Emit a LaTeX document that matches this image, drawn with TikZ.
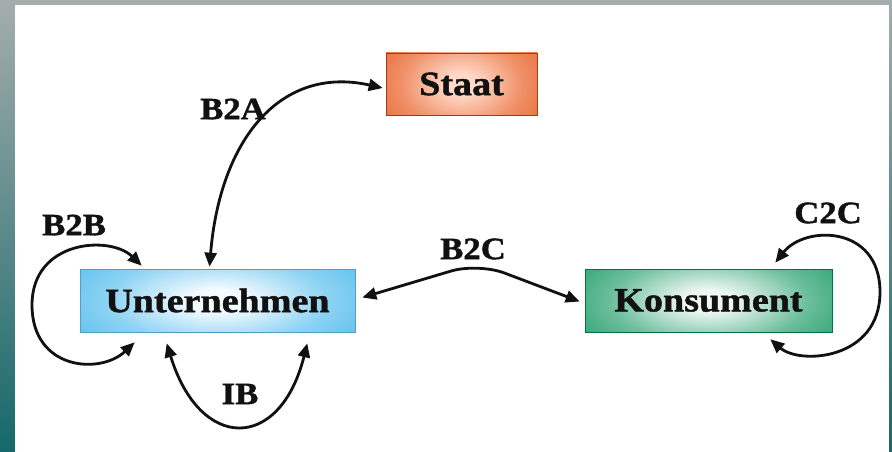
\documentclass[tikz,border=0pt]{standalone}
\usepackage{fontspec}
\setmainfont{Liberation Serif}
\newfontfamily\boxfont[FakeStretch=1.12,FakeBold=1.3]{Liberation Serif}
\usetikzlibrary{arrows.meta}

\definecolor{frametop}{HTML}{A4ADAC}
\definecolor{framebot}{HTML}{16686A}
\definecolor{staatout}{HTML}{E5561C}
\definecolor{staatin}{HTML}{FFD8C6}
\definecolor{unternout}{HTML}{38B2EA}
\definecolor{unternin}{HTML}{F4FBFF}
\definecolor{konsout}{HTML}{008F55}
\definecolor{konsin}{HTML}{EEF8F2}
\definecolor{ink}{HTML}{111111}

% soft radial glow: light core, saturated rim
\pgfdeclareradialshading{staatglow}{\pgfpoint{0bp}{0bp}}{color(0bp)=(staatin); color(5bp)=(staatin); color(20bp)=(staatout!55!staatin); color(40bp)=(staatout); color(50bp)=(staatout)}
\pgfdeclareradialshading{unternglow}{\pgfpoint{0bp}{0bp}}{color(0bp)=(unternin); color(5bp)=(unternin); color(20bp)=(unternout!55!unternin); color(40bp)=(unternout); color(50bp)=(unternout)}
\pgfdeclareradialshading{konsglow}{\pgfpoint{0bp}{0bp}}{color(0bp)=(konsin); color(5bp)=(konsin); color(20bp)=(konsout!55!konsin); color(40bp)=(konsout); color(50bp)=(konsout)}

\tikzset{
  entity/.style={inner sep=0pt, line width=0.6pt, font=\boxfont\bfseries\fontsize{34}{34}\selectfont, text=ink,
    path picture={\shade[shading=#1]
      ([yshift=22pt]path picture bounding box.north west) rectangle ([yshift=-22pt]path picture bounding box.south east);}},
  flow/.style={draw=ink, line width=2.8pt, {Triangle[length=14pt,width=12pt]}-{Triangle[length=14pt,width=12pt]}},
  flowlabel/.style={font=\boxfont\bfseries\fontsize{31}{31}\selectfont, text=ink, inner sep=0pt}
}

\begin{document}
\begin{tikzpicture}[x=1pt,y=-1pt]
  \useasboundingbox (0,0) rectangle (892,452);
  % frame and white page
  \fill[top color=frametop, bottom color=framebot] (0,0) rectangle (892,452);
  \fill[white] (15,5) rectangle (889,452);

  % entities
  \node[entity=staatglow, draw=staatout!70!black,
        minimum width=151pt, minimum height=62pt] (staat) at (461.5,84) {Staat};
  \node[entity=unternglow, draw=unternout!60!gray,
        minimum width=275pt, minimum height=63pt] (unt) at (217.5,300.5) {Unternehmen};
  \node[entity=konsglow, draw=konsout!80!black,
        minimum width=247pt, minimum height=63pt] (kon) at (708.5,300.5) {Konsument};

  % business to administration
  \draw[flow] ([xshift=-8pt,yshift=2pt]unt.north) .. controls (220,140) and (280,65) .. ([xshift=-3pt,yshift=-4pt]staat.west);
  % business to business loop
  \draw[flow] ([xshift=62pt,yshift=3pt]unt.north west) .. controls (110,235) and (32,240) .. (32,305)
              .. controls (32,370) and (100,375) .. ([xshift=55pt,yshift=-10pt]unt.south west);
  % business to consumer: two straight arms with a rounded peak
  \draw[flow, rounded corners=28pt] ([xshift=7pt,yshift=3pt]unt.east) -- (478,263) -- ([xshift=-5pt,yshift=-1pt]kon.west);
  % consumer to consumer loop
  \draw[flow] ([xshift=-57pt,yshift=6pt]kon.north east) .. controls (805,225) and (880,225) .. (880,292)
              .. controls (880,360) and (800,365) .. ([xshift=-62pt,yshift=-7pt]kon.south east);
  % intra-business
  \draw[flow] ([xshift=87pt,yshift=-11pt]unt.south west) .. controls (200,452) and (280,452) .. ([xshift=-48pt,yshift=-11pt]unt.south east);

  % labels
  \node[flowlabel] (lb2a) at (233,109) {B2A};
  \node[flowlabel] (lb2b) at (74,225) {B2B};
  \node[flowlabel] (lb2c) at (473,249) {B2C};
  \node[flowlabel] (lc2c) at (828,213) {C2C};
  \node[flowlabel] (lib) at (240,394) {IB};
\end{tikzpicture}
\end{document}
